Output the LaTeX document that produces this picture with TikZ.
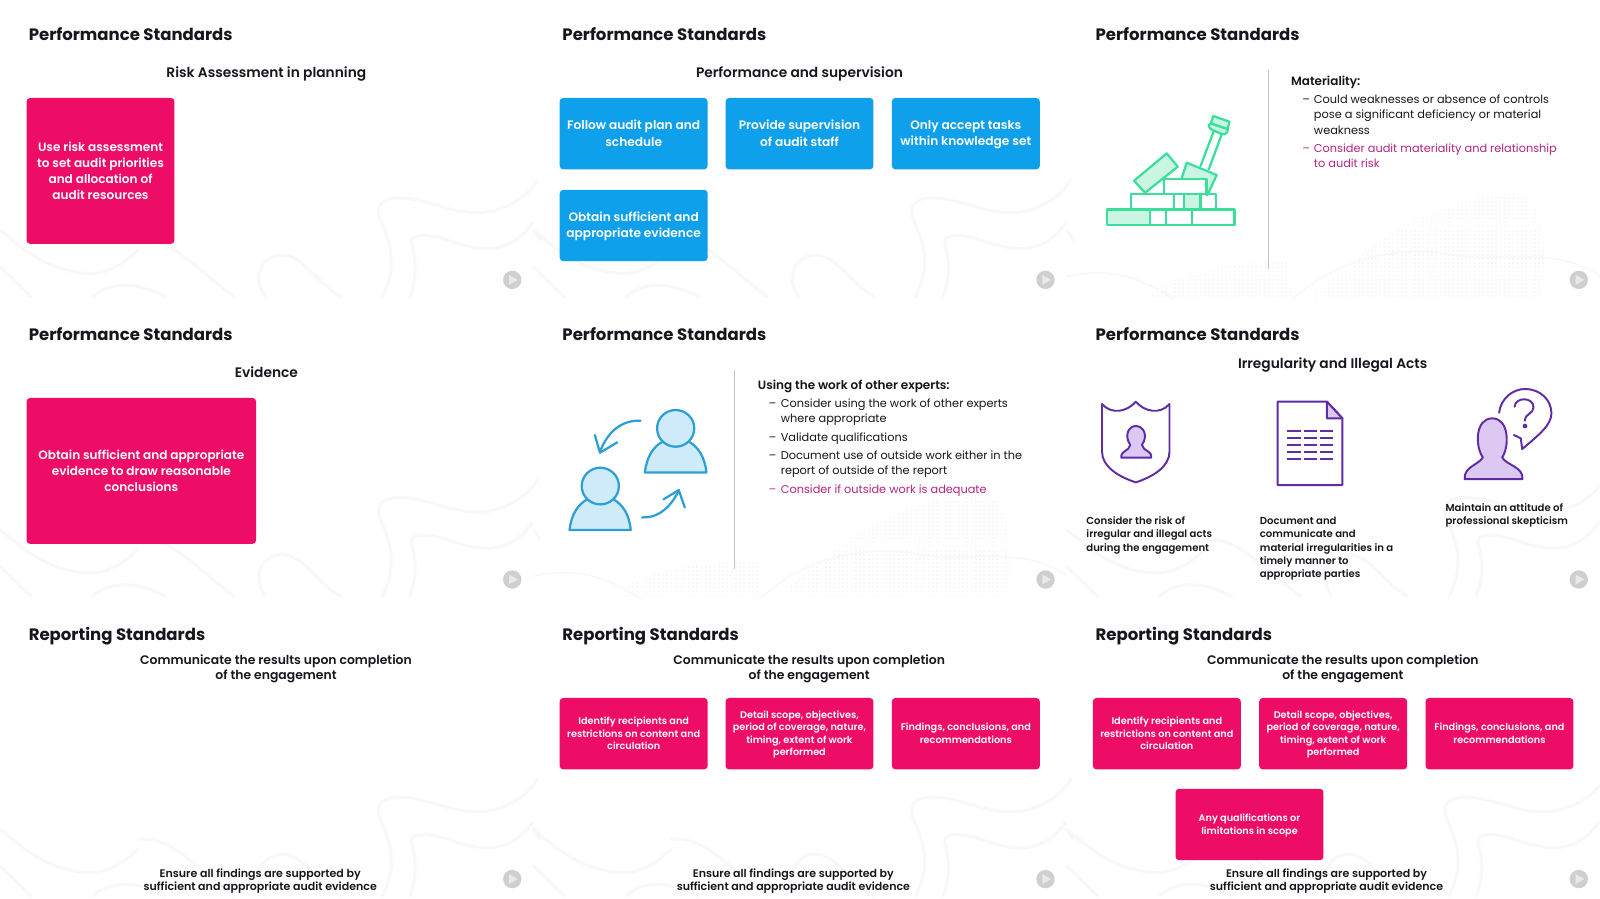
\documentclass[tikz,border=0pt]{standalone}
\usepackage{fontspec}
\setmainfont{Poppins}[BoldFont={Poppins SemiBold}]
\newfontfamily\heavyfont{Poppins}[UprightFont={* Bold}]
\definecolor{inkc}{HTML}{15171C}
\definecolor{pinkc}{HTML}{EE0D66}
\definecolor{bluec}{HTML}{0FA0EC}
\definecolor{magc}{HTML}{B4247F}
\definecolor{greenc}{HTML}{3ADF9C}
\definecolor{greenl}{HTML}{C9F5E2}
\definecolor{skyc}{HTML}{2C9FD6}
\definecolor{skyl}{HTML}{CFEBF9}
\definecolor{purc}{HTML}{5E2CA5}
\definecolor{purl}{HTML}{DCC8F2}
\definecolor{faintc}{HTML}{F8F8F8}
\definecolor{dotc}{HTML}{F7F7F7}
\definecolor{playc}{HTML}{CFCFCF}
\definecolor{rulec}{HTML}{C4C4C4}
\newcommand{\fsz}[2]{\fontsize{#1}{#2}\selectfont}
\newcommand{\fh}{\rule{0pt}{10pt}}
% first-line and last-line struts: they fix where a node's centre falls relative to its text
\newcommand{\ct}{\rule{0pt}{0.95em}}
\newcommand{\cb}{\rule[-0.24em]{0pt}{0.24em}}
\tikzset{
  slidetitle/.style={anchor=west,inner sep=0pt,text=inkc,font=\fsz{16.2}{18}\heavyfont},
  subhead/.style={inner sep=0pt,text=inkc,align=center,font=\fsz{13.5}{15.4}\bfseries},
  twoline/.style={inner sep=0pt,text=inkc,align=center,font=\fsz{12.15}{15.2}\bfseries},
  footline/.style={inner sep=0pt,text=inkc,align=center,font=\fsz{10.8}{13.5}\bfseries},
  cardbase/.style={rounded corners=3.5pt,inner sep=0pt,text=white,align=center,draw=none},
  pinkbig/.style={cardbase,fill=pinkc,font=\fsz{11.85}{15.7}\bfseries},
  bluebox/.style={cardbase,fill=bluec,minimum width=145,minimum height=70,font=\fsz{11.95}{15.7}\bfseries},
  pinksmall/.style={cardbase,fill=pinkc,minimum width=145,minimum height=70,font=\fsz{9.5}{12.1}\bfseries},
  bodytxt/.style={anchor=north west,inner sep=0pt,align=left,text=inkc,font=\fsz{11.1}{14.9}},
  magtxt/.style={bodytxt,text=magc},
  leadtxt/.style={bodytxt,font=\fsz{11.8}{14.9}\bfseries},
  captxt/.style={anchor=north west,inner sep=0pt,align=left,text=inkc,font=\fsz{9.9}{13}\bfseries},
  squig/.style={draw=faintc,line width=3pt,line cap=round},
  iconline/.style={line join=round,line cap=round},
}
% faint background curves of one slide
\newcommand{\squiggles}[1]{%
\begin{scope}[shift={(#1)},x=0.3375pt,y=-0.3268pt]
\draw[squig] (0,150) .. controls (60,200) and (130,270) .. (250,280) .. controls (320,285) and (370,240) .. (400,210);
\draw[squig] (0,260) -- (90,350);
\draw[squig] (270,350) .. controls (300,320) and (370,290) .. (480,350);
\draw[squig] (400,180) .. controls (500,170) and (560,260) .. (680,350);
\draw[squig] (770,350) .. controls (730,290) and (760,225) .. (820,225) .. controls (880,225) and (920,310) .. (990,350);
\draw[squig] (1110,350) .. controls (1160,250) and (1130,180) .. (1100,110) .. controls (1090,60) and (1130,50) .. (1180,55) .. controls (1250,60) and (1330,110) .. (1420,95) .. controls (1490,80) and (1540,40) .. (1560,0);
\draw[squig] (1190,350) .. controls (1215,280) and (1205,230) .. (1195,190) .. controls (1190,160) and (1240,160) .. (1300,180) .. controls (1370,205) and (1470,240) .. (1545,130);
\draw[squig] (1550,150) -- (1568,180);
\end{scope}}
% faint dotted patches and arcs of the slides that hold an icon
\newcommand{\dotpatch}[1]{%
\begin{scope}[shift={(#1)}]
\begin{scope}
\clip (80,293) .. controls (100,265) and (170,255) .. (220,258) -- (222,293) -- cycle
 (240,293) .. controls (300,230) and (380,190) .. (440,190) .. controls (470,195) and (470,250) .. (465,293) -- cycle;
\foreach \yy in {190,194,...,293}{
  \draw[dotc,line width=1.8pt,dash pattern=on 1.8pt off 2.4pt] (80,\yy) -- (470,\yy);
}
\end{scope}
\draw[squig,line width=1.6pt] (0,271) .. controls (40,262) and (70,270) .. (105,293);
\draw[squig,line width=1.6pt] (222,293) .. controls (270,250) and (330,240) .. (380,250) .. controls (420,258) and (480,240) .. (522,270);
\end{scope}}
% playback mark of one slide
\newcommand{\playmark}[1]{%
\begin{scope}[shift={(#1)}]
\fill[playc] (502,274.3) circle [radius=9];
\fill[white!55!playc] (499,269.5) -- (507.5,274.3) -- (499,279) -- cycle;
\end{scope}}
\begin{document}
\begin{tikzpicture}[x=1pt,y=-1pt]
\useasboundingbox (0,0) rectangle (1568,881);
\fill[white] (0,0) rectangle (1568,881);
% background art
\foreach \ox/\oy in {0/176.4,522.6/176.4,0/470,1045.2/470,0/763.6,522.6/763.6,1045.2/763.6}{\squiggles{\ox,\oy}}
\dotpatch{1045.2,0}
\dotpatch{522.6,293.6}
\foreach \ox/\oy in {0/0,522.6/0,1045.2/0,0/293.6,522.6/293.6,1045.2/293.6,0/587.2,522.6/587.2,1045.2/587.2}{\playmark{\ox,\oy}}
% titles
\node[slidetitle] (t1) at (28,34) {\ct Performance Standards\cb};
\node[slidetitle] (t2) at (551,34) {\ct Performance Standards\cb};
\node[slidetitle] (t3) at (1073.5,34) {\ct Performance Standards\cb};
\node[slidetitle] (t4) at (28,328) {\ct Performance Standards\cb};
\node[slidetitle] (t5) at (551,328) {\ct Performance Standards\cb};
\node[slidetitle] (t6) at (1073.5,328) {\ct Performance Standards\cb};
\node[slidetitle] (t7) at (28,622) {\ct Reporting Standards\cb};
\node[slidetitle] (t8) at (551,622) {\ct Reporting Standards\cb};
\node[slidetitle] (t9) at (1073.5,622) {\ct Reporting Standards\cb};
% slide 1
\node[subhead] (s1) at (261,71) {\ct Risk Assessment in planning\cb};
\node[pinkbig,minimum width=145,minimum height=143] (b1) at (98.5,167.5) {\ct Use risk assessment\\to set audit priorities\\and allocation of\\audit resources\cb};
% slide 2
\node[subhead] (s2) at (783.5,71) {\ct Performance and supervision\cb};
\node[bluebox] (b2a) at (621,131) {\ct Follow audit plan and\\schedule\cb};
\node[bluebox] (b2b) at (783.5,131) {\ct Provide supervision\\of audit staff\cb};
\node[bluebox] (b2c) at (946.5,131) {\ct Only accept tasks\\within knowledge set\cb};
\node[bluebox] (b2d) at (621,221) {\ct Obtain sufficient and\\appropriate evidence\cb};
% slide 3
\draw[rulec,line width=0.9pt] (1243,69) -- (1243,264);
\node[leadtxt] (m0) at (1265,73.5) {\fh Materiality:};
\node[bodytxt] (m1d) at (1276,91.5) {\fh –};
\node[bodytxt] (m1) at (1287.5,91.5) {\fh Could weaknesses or absence of controls\\pose a significant deficiency or material\\weakness};
\node[magtxt] (m2d) at (1276,139) {\fh –};
\node[magtxt] (m2) at (1287.5,139) {\fh Consider audit materiality and relationship\\to audit risk};
\begin{scope}[shift={(1038.8,58.8)},x=0.3375pt,y=-0.3268pt]
\begin{scope}[iconline,draw=greenc,line width=2.2pt]
\filldraw[fill=greenl] (368,308) -- (455,345) -- (428,405) -- (350,365) -- cycle;
\draw (408,318) -- (447,212) (432,328) -- (470,222);
\filldraw[fill=greenl] (447,212) .. controls (430,205) and (428,195) .. (438,190) -- (487,207) .. controls (488,218) and (480,225) .. (470,222) -- cycle;
\filldraw[fill=greenl] (438,190) -- (445,168) -- (492,185) -- (487,207) -- cycle;
\filldraw[fill=greenl] (215,362) -- (310,280) -- (342,320) -- (247,398) -- cycle;
\filldraw[fill=white] (303,357) rectangle (425,402);
\fill[greenl] (137,448) rectangle (262,495) (360,402) rectangle (408,448);
\draw (207,402) rectangle (453,448) (330,402) -- (330,448) (360,402) -- (360,448) (408,402) -- (408,448);
\draw (137,448) rectangle (507,495) (262,448) -- (262,495) (307,448) -- (307,495) (383,448) -- (383,495);
\end{scope}
\end{scope}
% slide 4
\node[subhead] (s4) at (261,365) {\ct Evidence\cb};
\node[pinkbig,minimum width=225,minimum height=143] (b4) at (138.5,461.5) {\ct Obtain sufficient and appropriate\\evidence to draw reasonable\\conclusions\cb};
% slide 5
\draw[rulec,line width=0.9pt] (720,363) -- (720,558);
\node[leadtxt] (e0) at (742.5,371.5) {\fh Using the work of other experts:};
\node[bodytxt] (e1d) at (753,389) {\fh –};
\node[bodytxt] (e1) at (765,389) {\fh Consider using the work of other experts\\where appropriate};
\node[bodytxt] (e2d) at (753,422) {\fh –};
\node[bodytxt] (e2) at (765,422) {\fh Validate qualifications};
\node[bodytxt] (e3d) at (753,440) {\fh –};
\node[bodytxt] (e3) at (765,440) {\fh Document use of outside work either in the\\report of outside of the report};
\node[magtxt] (e4d) at (753,473) {\fh –};
\node[magtxt] (e4) at (765,473) {\fh Consider if outside work is adequate};
\begin{scope}[shift={(519.4,352.8)},x=0.3312pt,y=-0.3268pt]
\begin{scope}[iconline,draw=skyc,line width=2.2pt]
\filldraw[fill=skyl] (340,337) .. controls (345,290) and (365,260) .. (392,245) -- (470,245) .. controls (497,260) and (517,290) .. (522,337) -- cycle;
\filldraw[fill=skyl] (431,205) circle [radius=55];
\filldraw[fill=skyl] (117,510) .. controls (122,463) and (142,433) .. (169,418) -- (247,418) .. controls (274,433) and (294,463) .. (298,510) -- cycle;
\filldraw[fill=skyl] (208,378) circle [radius=55];
\draw (327,182) .. controls (270,180) and (230,215) .. (207,275);
\draw (192,225) -- (207,278) -- (258,247);
\draw (332,472) .. controls (375,475) and (415,445) .. (440,392);
\draw (395,418) -- (440,390) -- (458,442);
\end{scope}
\end{scope}
% slide 6
\node[subhead] (s6) at (1306,357) {\ct Irregularity and Illegal Acts\cb};
\begin{scope}[shift={(1038.8,362.6)},x=0.3375pt,y=-0.3268pt]
\begin{scope}[iconline,draw=purc,line width=1.9pt]
\draw (122,102) .. controls (150,135) and (195,125) .. (220,95) .. controls (245,125) and (290,135) .. (318,102) -- (318,245) .. controls (318,290) and (270,320) .. (220,337) .. controls (170,320) and (122,290) .. (122,245) -- cycle;
\filldraw[fill=purl] (178,263) .. controls (176,240) and (200,245) .. (204,225) .. controls (185,195) and (200,168) .. (220,168) .. controls (242,168) and (257,195) .. (238,225) .. controls (242,245) and (267,240) .. (265,263) -- cycle;
\filldraw[fill=white] (632,95) -- (775,95) -- (820,145) -- (820,345) -- (632,345) -- cycle;
\filldraw[fill=purl] (775,95) -- (775,145) -- (820,145) -- cycle;
\foreach \yy in {182,203,225,247,268}{\draw[line cap=butt] (660,\yy) -- (700,\yy) (708,\yy) -- (747,\yy) (755,\yy) -- (793,\yy);}
\filldraw[fill=purl] (1175,327) .. controls (1172,290) and (1215,285) .. (1228,262) .. controls (1205,230) and (1205,145) .. (1255,145) .. controls (1305,145) and (1305,230) .. (1284,262) .. controls (1295,285) and (1346,290) .. (1343,327) -- cycle;
\draw (1275,128) .. controls (1280,85) and (1315,57) .. (1350,57) .. controls (1395,57) and (1427,90) .. (1427,130) .. controls (1427,165) and (1390,195) .. (1342,237) -- (1338,205) -- (1318,195);
\draw (1320,110) .. controls (1322,80) and (1375,80) .. (1375,112) .. controls (1375,132) and (1350,130) .. (1350,152);
\fill[purc] (1350,168) circle [radius=7];
\end{scope}
\end{scope}
\node[captxt] (c1) at (1064.5,504) {\fh Consider the risk of\\irregular and illegal acts\\during the engagement};
\node[captxt] (c2) at (1234.5,504) {\fh Document and\\communicate and\\material irregularities in a\\timely manner to\\appropriate parties};
\node[captxt] (c3) at (1416.5,491) {\fh Maintain an attitude of\\professional skepticism};
% slide 7
\node[twoline] (s7) at (270.5,654.5) {\ct Communicate the results upon completion\\of the engagement\cb};
\node[footline] (f7) at (255,862.7) {\ct Ensure all findings are supported by\\sufficient and appropriate audit evidence\cb};
% slide 8
\node[twoline] (s8) at (793,654.5) {\ct Communicate the results upon completion\\of the engagement\cb};
\node[pinksmall] (b8a) at (621,719) {\ct Identify recipients and\\restrictions on content and\\circulation\cb};
\node[pinksmall] (b8b) at (783.5,719) {\ct Detail scope, objectives,\\period of coverage, nature,\\timing, extent of work\\performed\cb};
\node[pinksmall] (b8c) at (946.5,719) {\ct Findings, conclusions, and\\recommendations\cb};
\node[footline] (f8) at (777.5,862.7) {\ct Ensure all findings are supported by\\sufficient and appropriate audit evidence\cb};
% slide 9
\node[twoline] (s9) at (1316,654.5) {\ct Communicate the results upon completion\\of the engagement\cb};
\node[pinksmall] (b9a) at (1143.5,719) {\ct Identify recipients and\\restrictions on content and\\circulation\cb};
\node[pinksmall] (b9b) at (1306.5,719) {\ct Detail scope, objectives,\\period of coverage, nature,\\timing, extent of work\\performed\cb};
\node[pinksmall] (b9c) at (1469.5,719) {\ct Findings, conclusions, and\\recommendations\cb};
\node[pinksmall] (b9d) at (1224.5,808) {\ct Any qualifications or\\limitations in scope\cb};
\node[footline] (f9) at (1300,862.7) {\ct Ensure all findings are supported by\\sufficient and appropriate audit evidence\cb};
\end{tikzpicture}
\end{document}
